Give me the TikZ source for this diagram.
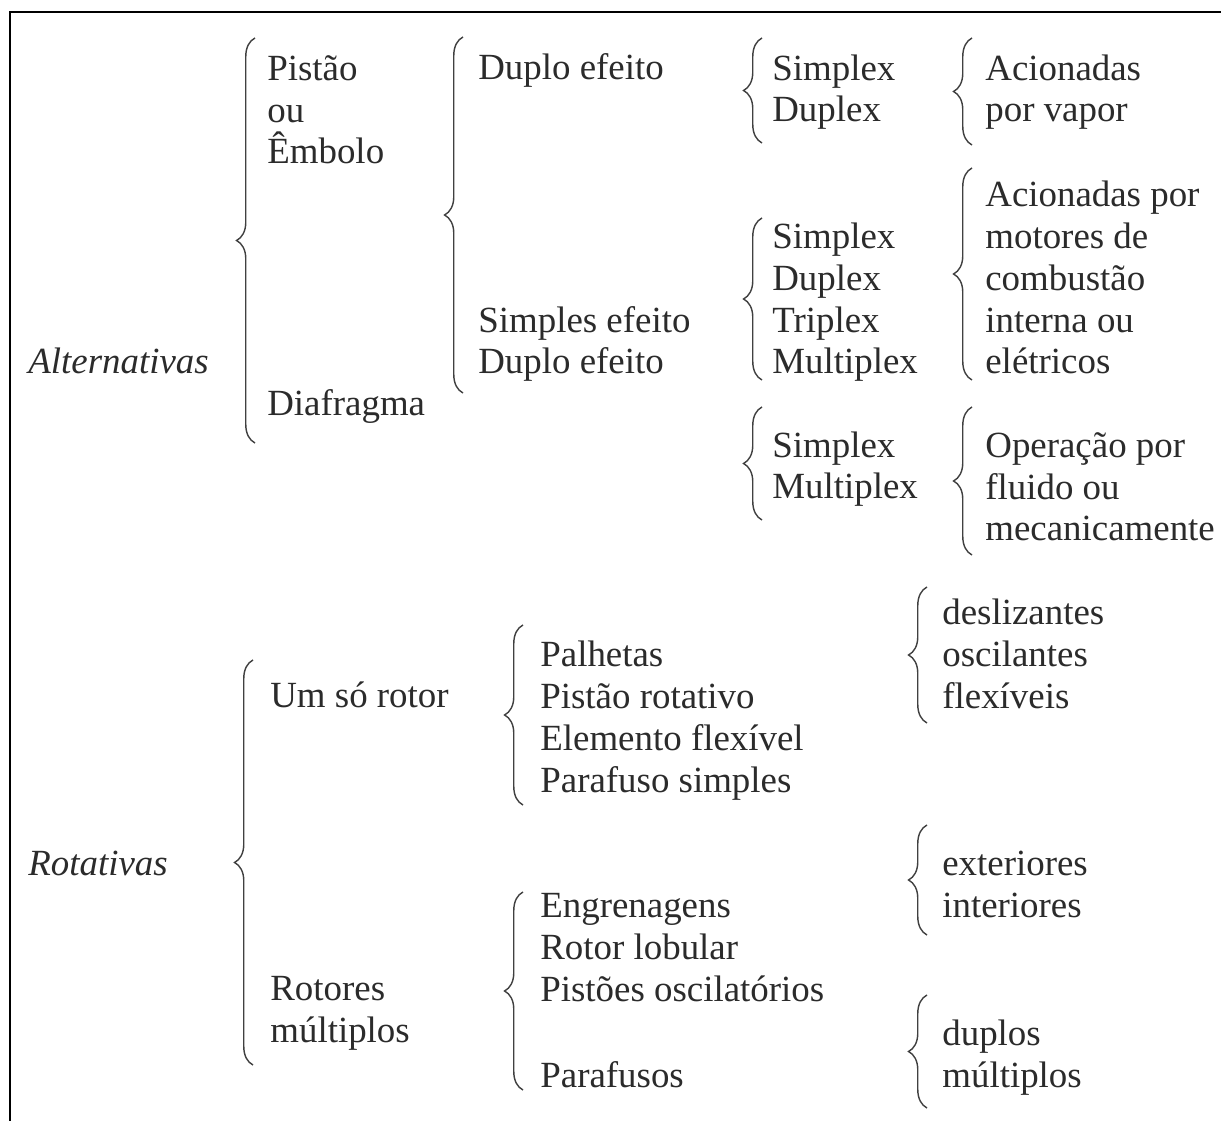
\documentclass[tikz,border=0pt]{standalone}
\usepackage{fontspec}
\setmainfont{Liberation Serif}
\usepackage{tikz}
\usetikzlibrary{decorations.pathreplacing}
\definecolor{tinta}{HTML}{2B2B2B}
% base west = baseline of the last line of a node
\tikzstyle{txt} = [anchor=base west, align=left, inner sep=0pt, text=tinta,
  font=\fontsize{21pt}{23.85pt}\selectfont]
\tikzstyle{chave} = [draw=black!75, line width=0.8pt, decorate,
  decoration={brace, amplitude=10.5pt}]

\begin{document}
\begin{tikzpicture}[x=0.02cm, y=-0.02cm]
  \useasboundingbox (0,0) rectangle (1221,1121);
  \fill[white] (0,0) rectangle (1221,1121);
  \draw[line width=1.1pt] (1221,12) -- (10,12) -- (10,1121);

  % bombas alternativas
  \node[txt] (alt) at (28,374) {\itshape Alternativas};
  \node[txt] (pist) at (267,164) {Pistão\\ou\\Êmbolo};
  \node[txt] (diaf) at (267,416) {Diafragma};
  \node[txt] (duplo) at (478,80) {Duplo efeito};
  \node[txt] (simpl) at (478,374) {Simples efeito\\Duplo efeito};
  \node[txt] (plex1) at (772,122) {Simplex\\Duplex};
  \node[txt] (plex2) at (772,374) {Simplex\\Duplex\\Triplex\\Multiplex};
  \node[txt] (plex3) at (772,499) {Simplex\\Multiplex};
  \node[txt] (vapor) at (985,122) {Acionadas\\por vapor};
  \node[txt] (motor) at (985,374) {Acionadas por\\motores de\\combustão\\interna ou\\elétricos};
  \node[txt] (fluido) at (985,541) {Operação por\\fluido ou\\mecanicamente};

  \coordinate (b1t) at (255,38);   \coordinate (b1b) at (255,443);
  \coordinate (b2t) at (463,37);   \coordinate (b2b) at (463,393);
  \coordinate (b3t) at (762,38);   \coordinate (b3b) at (762,143);
  \coordinate (b4t) at (762,218);  \coordinate (b4b) at (762,380);
  \coordinate (b5t) at (762,407);  \coordinate (b5b) at (762,520);
  \coordinate (b6t) at (972,38);   \coordinate (b6b) at (972,145);
  \coordinate (b7t) at (972,168);  \coordinate (b7b) at (972,380);
  \coordinate (b8t) at (972,407);  \coordinate (b8b) at (972,555);
  \draw[chave] (b1b) -- (b1t);
  \draw[chave] (b2b) -- (b2t);
  \draw[chave] (b3b) -- (b3t);
  \draw[chave] (b4b) -- (b4t);
  \draw[chave] (b5b) -- (b5t);
  \draw[chave] (b6b) -- (b6t);
  \draw[chave] (b7b) -- (b7t);
  \draw[chave] (b8b) -- (b8t);

  % bombas rotativas
  \node[txt] (rot) at (28,875) {\itshape Rotativas};
  \node[txt] (um) at (270,707) {Um só rotor};
  \node[txt] (mult) at (270,1042) {Rotores\\múltiplos};
  \node[txt] (palh) at (540,792) {Palhetas\\Pistão rotativo\\Elemento flexível\\Parafuso simples};
  \node[txt] (engr) at (540,1001) {Engrenagens\\Rotor lobular\\Pistões oscilatórios};
  \node[txt] (paraf) at (540,1087) {Parafusos};
  \node[txt] (desl) at (942,708) {deslizantes\\oscilantes\\flexíveis};
  \node[txt] (ext) at (942,917) {exteriores\\interiores};
  \node[txt] (dupl) at (942,1087) {duplos\\múltiplos};

  \coordinate (r1t) at (253,660);  \coordinate (r1b) at (253,1065);
  \coordinate (r2t) at (523,625);  \coordinate (r2b) at (523,805);
  \coordinate (r3t) at (523,892);  \coordinate (r3b) at (523,1090);
  \coordinate (r4t) at (927,587);  \coordinate (r4b) at (927,723);
  \coordinate (r5t) at (927,825);  \coordinate (r5b) at (927,935);
  \coordinate (r6t) at (927,995);  \coordinate (r6b) at (927,1108);
  \draw[chave] (r1b) -- (r1t);
  \draw[chave] (r2b) -- (r2t);
  \draw[chave] (r3b) -- (r3t);
  \draw[chave] (r4b) -- (r4t);
  \draw[chave] (r5b) -- (r5t);
  \draw[chave] (r6b) -- (r6t);
\end{tikzpicture}
\end{document}
